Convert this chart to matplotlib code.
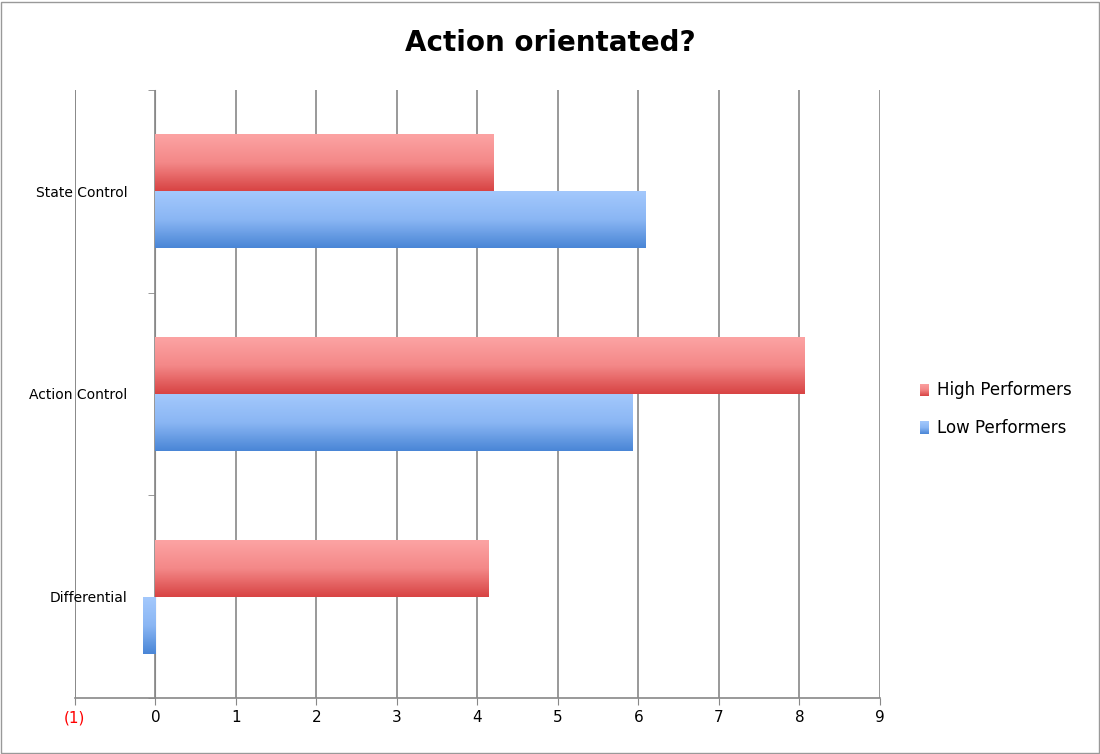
import matplotlib
matplotlib.use("Agg")
import matplotlib.pyplot as plt
import numpy as np
from matplotlib.colors import LinearSegmentedColormap
from matplotlib.patches import Rectangle

categories = ["Differential", "Action Control", "State Control"]
high = [4.14, 8.07, 4.2]
low = [-0.15, 5.93, 6.09]
xticks = [-1, 0, 1, 2, 3, 4, 5, 6, 7, 8, 9]
xticklabels = ["(1)", "0", "1", "2", "3", "4", "5", "6", "7", "8", "9"]

fig = plt.figure(figsize=(11, 7.54), dpi=100)
ax = fig.add_axes([0.068, 0.074, 0.732, 0.807])
fig.patches.append(Rectangle((0.001, 0.001), 0.998, 0.997, transform=fig.transFigure,
                             fill=False, edgecolor="#999999", lw=1))

red_cm = LinearSegmentedColormap.from_list("r", ["#FCA3A3", "#F48888", "#D84444"])
blue_cm = LinearSegmentedColormap.from_list("b", ["#A3C8FC", "#8AB6F4", "#4A86D6"])
grad = np.linspace(0, 1, 64).reshape(-1, 1)
h = 0.28
y = np.arange(len(categories))
for i in y:
    for val, top, cm in [(high[i], i + h, red_cm), (low[i], i, blue_cm)]:
        x0, x1 = min(0, val), max(0, val)
        ax.imshow(grad, cmap=cm, aspect="auto", extent=[x0, x1, top - h, top],
                  origin="upper", zorder=3, interpolation="bilinear")
ax.set_xlim(-1, 9)
ax.set_ylim(-0.5, 2.5)
ax.set_xticks(xticks)
ax.set_xticklabels(xticklabels, fontsize=11)
ax.get_xticklabels()[0].set_color("red")
ax.set_yticks(y)
ax.set_yticklabels(categories, fontsize=12)
ax.tick_params(axis="y", length=0, pad=20)
ax.set_yticks([-0.5, 0.5, 1.5, 2.5], minor=True)
ax.tick_params(axis="y", which="minor", length=5, color="#888888")
ax.tick_params(axis="x", length=5, color="#888888")
ax.grid(axis="x", color="#888888", lw=1.2, zorder=0)
for s in ["top", "right"]:
    ax.spines[s].set_visible(False)
ax.spines["left"].set_position(("data", 0))
ax.spines["left"].set_color("#888888")
ax.spines["bottom"].set_color("#888888")
ax.spines["bottom"].set_linewidth(1.2)
ax.plot([-1, -1], [-0.5, 2.5], color="#888888", lw=1.2, zorder=1)
fig.text(0.5, 0.943, "Action orientated?", ha="center", va="center", fontsize=20, fontweight="bold")

for yy, cm, lab in [(0.483, red_cm, "High Performers"), (0.433, blue_cm, "Low Performers")]:
    lax = fig.add_axes([0.836, yy - 0.008, 0.008, 0.016])
    lax.imshow(grad, cmap=cm, aspect="auto")
    lax.axis("off")
    fig.text(0.852, yy, lab, va="center", fontsize=12)

fig.savefig("out.png", dpi=100)
